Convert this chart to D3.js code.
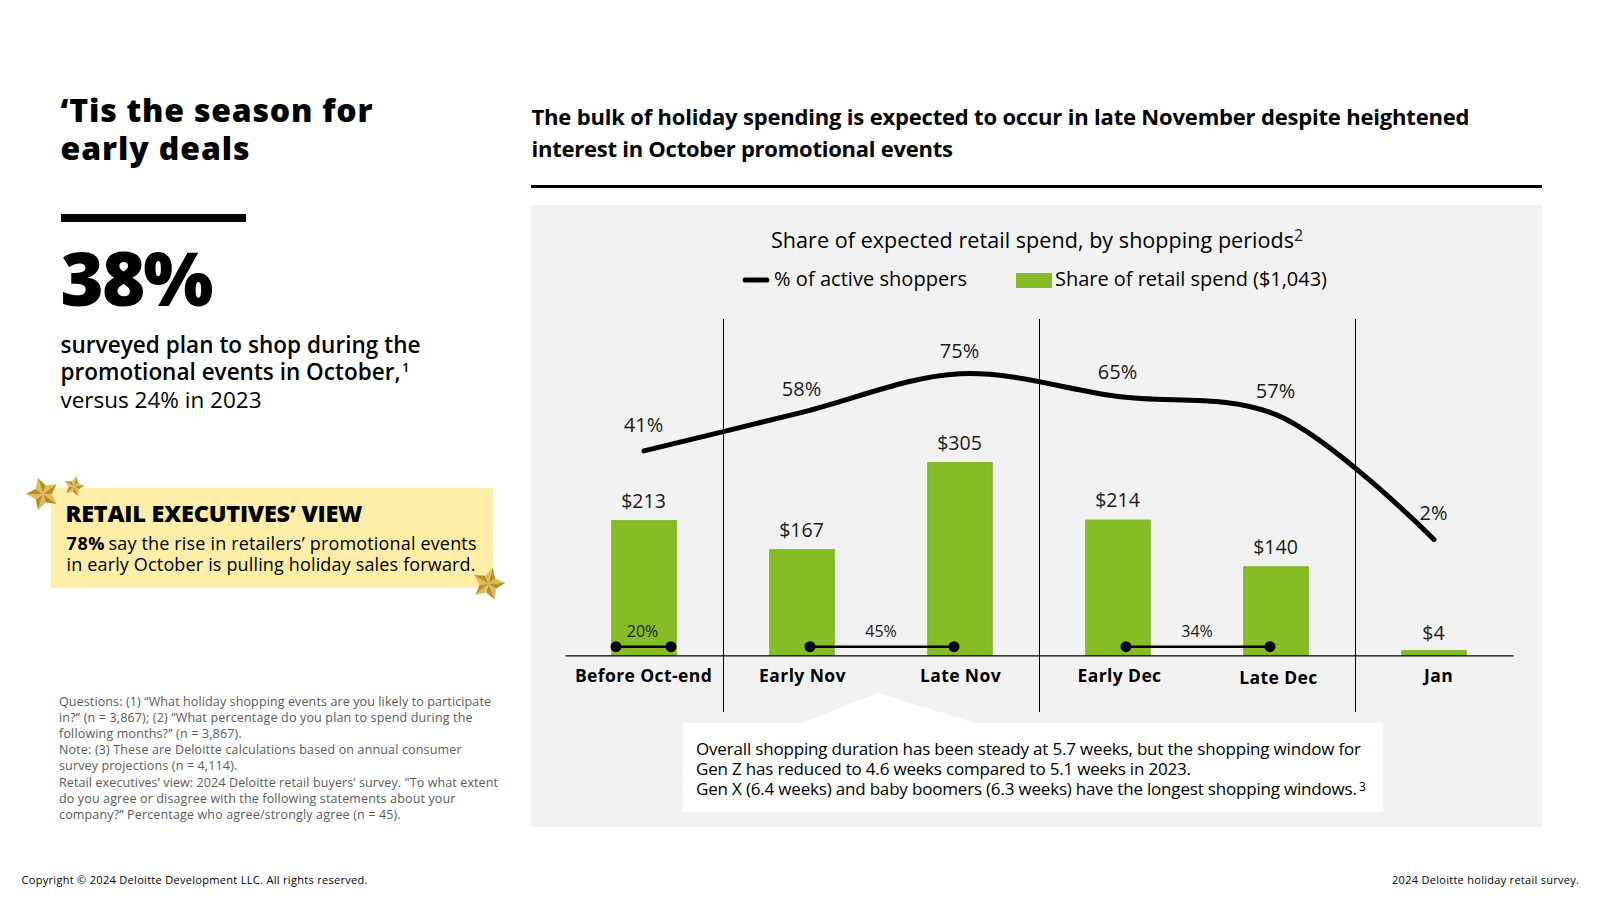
<!DOCTYPE html>
<html>
<head>
<meta charset="utf-8">
<script src="https://cdn.jsdelivr.net/npm/d3@7"></script>
<style>
  body { margin: 0; background: #fff; }
  svg { display: block; }
  text { font-family: "Open Sans", sans-serif; fill: #000; }
  .tick text { font-family: "Open Sans", sans-serif; }
</style>
</head>
<body>
<script>
var categories = ["Before Oct-end", "Early Nov", "Late Nov", "Early Dec", "Late Dec", "Jan"];
var shopperPct = [41, 58, 75, 65, 57, 2];
var spend = [213, 167, 305, 214, 140, 4];

// share of shoppers who shop across the linked periods
var spanShare = [20, 45, 34];
var spanFrom = ["Before Oct-end", "Early Nov", "Early Dec"];
var spanTo = ["Before Oct-end", "Late Nov", "Late Dec"];

// a period group starts at each of these
var groupStarts = ["Early Nov", "Early Dec", "Jan"];

var titleLines = ["‘Tis the season for", "early deals"];
var headlineLines = ["The bulk of holiday spending is expected to occur in late November despite heightened", "interest in October promotional events"];
var bodyLines = ["surveyed plan to shop during the", "promotional events in October,", "versus 24% in 2023"];
var boxLines = [
  "Overall shopping duration has been steady at 5.7 weeks, but the shopping window for",
  "Gen Z has reduced to 4.6 weeks compared to 5.1 weeks in 2023.",
  "Gen X (6.4 weeks) and baby boomers (6.3 weeks) have the longest shopping windows."
];
var noteLines = [
  "Questions: (1) “What holiday shopping events are you likely to participate",
  "in?” (n = 3,867); (2) “What percentage do you plan to spend during the",
  "following months?” (n = 3,867).",
  "Note: (3) These are Deloitte calculations based on annual consumer",
  "survey projections (n = 4,114).",
  "Retail executives’ view: 2024 Deloitte retail buyers’ survey. \"To what extent",
  "do you agree or disagree with the following statements about your",
  "company?” Percentage who agree/strongly agree (n = 45)."
];

var svg = d3.select("body").append("svg").attr("width", 1600).attr("height", 900);

// text helper, w forces the run to the measured width
function put(str, x, y, size, weight, w, color) {
  var t = svg.append("text").text(str)
    .attr("x", x).attr("y", y)
    .attr("font-size", size).attr("font-weight", weight || 400);
  if (w) t.attr("textLength", w).attr("lengthAdjust", "spacing");
  if (color) t.style("fill", color);
  return t;
}

function rect(x, y, w, h, fill) {
  return svg.append("rect").attr("x", x).attr("y", y).attr("width", w).attr("height", h).attr("fill", fill);
}

// ---- left column
put(titleLines[0], 60.5, 121.5, 32, 800, 312);
put(titleLines[1], 60.5, 160, 32, 800, 189);
rect(61, 214, 185, 8, "#000");
put("38%", 60.5, 305.5, 74, 800, 153);
put(bodyLines[0], 60.5, 352.5, 22.5, 600, 360);
put(bodyLines[1], 60.5, 380, 22.5, 600, 340);
put("1", 402, 372, 13, 600);
put(bodyLines[2], 60.5, 408, 22.5, 400, 201);

rect(51, 488, 442, 100, "#feeea8");
put("RETAIL EXECUTIVES’ VIEW", 65.5, 521.5, 23.5, 800, 297);
put("78%", 66.5, 550, 18, 700, 38);
put("say the rise in retailers’ promotional events", 108.5, 550, 18, 400, 368);
put("in early October is pulling holiday sales forward.", 66.5, 571, 18, 400, 409);

// gold stars, each point split in a light and a dark facet
function star(cx, cy, r, rot) {
  var g = svg.append("g").attr("transform", "translate(" + cx + "," + cy + ") rotate(" + rot + ")");
  var pts = d3.range(10).map(function (i) {
    var a = i * Math.PI / 5 - Math.PI / 2, rr = i % 2 ? r * 0.52 : r;
    return [rr * Math.cos(a), rr * Math.sin(a)];
  });
  pts.forEach(function (p, i) {
    var q = pts[(i + 1) % 10];
    g.append("path")
      .attr("d", "M0,0L" + p + "L" + q + "Z")
      .attr("fill", i % 2 ? "#e3bd55" : "#b98f2e");
  });
}
star(43, 494, 17, -18);
star(74, 486.5, 10.5, 12);
star(488.5, 584, 17, 14);

noteLines.forEach(function (d, i) {
  var ends = [491, 472.6, 241.7, 461.5, 237.3, 498, 455.4, 400.6];
  put(d, 59, 706 + i * 16.1, 12.5, 400, ends[i] - 59, "#5a5a5a");
});
put("Copyright © 2024 Deloitte Development LLC. All rights reserved.", 21.5, 884, 11, 400, 346);
put("2024 Deloitte holiday retail survey.", 1392, 884, 11, 400, 187);

// ---- right column
put(headlineLines[0], 531.5, 125, 22, 700, 938);
put(headlineLines[1], 531.5, 156.5, 22, 700, 421.5);
rect(531, 185, 1011, 3, "#000");
rect(531, 205, 1011, 622, "#f2f2f2");

put("Share of expected retail spend, by shopping periods", 771, 248, 21.5, 400, 523);
put("2", 1294, 241, 16, 400, null, "#222");

// legend
svg.append("line").attr("x1", 745).attr("x2", 767).attr("y1", 280).attr("y2", 280)
  .attr("stroke", "#000").attr("stroke-width", 5).attr("stroke-linecap", "round");
put("% of active shoppers", 774, 286, 20, 400, 193);
rect(1016, 273, 36, 15, "#86bc25");
put("Share of retail spend ($1,043)", 1055, 286, 20, 400, 272);

// ---- chart
var baseY = 655.3;
var x = d3.scaleBand().domain(categories).range([565, 1513]).paddingInner(0.593).paddingOuter(0.2965);
var yBar = d3.scaleLinear().domain([0, 350]).range([baseY, baseY - 221]);
var yLine = d3.scaleLinear().domain([0, 100]).range([544, 317]);
var cx = function (c) { return x(c) + x.bandwidth() / 2; };

svg.selectAll(".bar").data(categories).enter().append("rect")
  .attr("class", "bar")
  .attr("x", function (d) { return x(d); })
  .attr("width", x.bandwidth())
  .attr("y", function (d, i) { return yBar(spend[i]) - (spend[i] < 10 ? 2 : 0); })
  .attr("height", function (d, i) { return baseY - yBar(spend[i]) + (spend[i] < 10 ? 2 : 0); })
  .attr("fill", "#86bc25")
  .attr("stroke", "#7ab51d").attr("stroke-width", 1.2);

// period separators
svg.selectAll(".sep").data(groupStarts).enter().append("line")
  .attr("class", "sep")
  .attr("x1", function (d) { return x(d) - x.step() * x.paddingInner() / 2 + 0.5; })
  .attr("x2", function (d) { return x(d) - x.step() * x.paddingInner() / 2 + 0.5; })
  .attr("y1", 319).attr("y2", 712)
  .attr("stroke", "#000").attr("stroke-width", 1);

// axis
var tickNudgeX = [-0.5, 0.5, 0.5, 1.5, 2.5, 4.5];
var axis = svg.append("g").attr("transform", "translate(0," + baseY + ")")
  .call(d3.axisBottom(x).tickSize(0).tickPadding(0));
axis.select(".domain").attr("stroke", "#000").attr("stroke-width", 1.2);
axis.selectAll(".tick text")
  .attr("font-size", 17.5).attr("font-weight", 700)
  .attr("text-anchor", "middle")
  .attr("dx", function (d, i) { return tickNudgeX[i]; })
  .attr("dy", function (d) { return d === "Late Dec" ? 29 : 27; })
  .style("fill", "#000").style("letter-spacing", "0.4px");

// shoppers line
var line = d3.line()
  .x(function (d) { return cx(d); })
  .y(function (d, i) { return yLine(shopperPct[i]); })
  .curve(d3.curveCatmullRom.alpha(0.5));
svg.append("path").attr("d", line(categories))
  .attr("fill", "none").attr("stroke", "#000").attr("stroke-width", 5).attr("stroke-linecap", "round");

// labels were placed by hand in the original
var pctNudgeY = [-1.5, 0.5, 1, 0, 0, -2];
svg.selectAll(".pct").data(categories).enter().append("text")
  .attr("class", "pct")
  .attr("x", function (d) { return cx(d) - 0.5; })
  .attr("y", function (d, i) { return yLine(shopperPct[i]) - 17 + pctNudgeY[i]; })
  .attr("text-anchor", "middle").attr("font-size", 20)
  .style("fill", "#1a1a1a")
  .text(function (d, i) { return shopperPct[i] + "%"; });

svg.selectAll(".val").data(categories).enter().append("text")
  .attr("class", "val")
  .attr("x", function (d) { return cx(d) - 0.5; })
  .attr("y", function (d, i) { return yBar(spend[i]) - 12.8; })
  .attr("text-anchor", "middle").attr("font-size", 19.5)
  .style("fill", "#1a1a1a")
  .text(function (d, i) { return "$" + spend[i]; });

// dumbbells, single period spans the bar, linked periods start inside each bar
var dumbY = baseY - 8.6;
spanShare.forEach(function (v, i) {
  var single = spanFrom[i] === spanTo[i];
  var x1 = cx(spanFrom[i]) + (single ? -28 : 8);
  var x2 = cx(spanTo[i]) + (single ? 27 : -6);
  svg.append("line").attr("x1", x1).attr("x2", x2).attr("y1", dumbY).attr("y2", dumbY)
    .attr("stroke", "#000").attr("stroke-width", 2.5);
  svg.selectAll(null).data([x1, x2]).enter().append("circle")
    .attr("cx", function (d) { return d; }).attr("cy", dumbY).attr("r", 5.5).attr("fill", "#000");
  svg.append("text").attr("x", (x1 + x2) / 2 - 1).attr("y", baseY - 18.5)
    .attr("text-anchor", "middle").attr("font-size", 16)
    .style("fill", "#1a1a1a").text(v + "%");
});

// callout
svg.append("path").attr("d", "M801,723L878,693L975,723Z").attr("fill", "#fff");
rect(683, 723, 700, 89, "#fff");
put(boxLines[0], 696, 755, 17, 400, 665);
put(boxLines[1], 696, 775, 17, 400, 495);
put(boxLines[2], 696, 795, 17, 400, 661);
put("3", 1359, 791, 12, 400);
</script>
</body>
</html>
